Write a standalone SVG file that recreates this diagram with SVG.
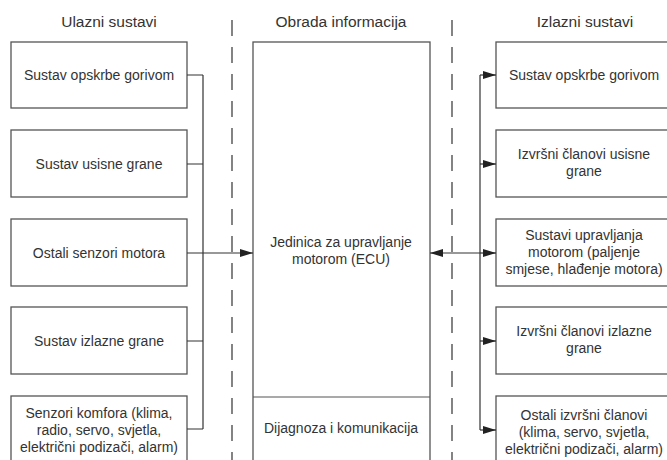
<svg xmlns="http://www.w3.org/2000/svg" width="667" height="460" viewBox="0 0 667 460">
<style>
.box{fill:#fff;stroke:#555;stroke-width:1.3}
.t{font-family:"Liberation Sans",Arial,sans-serif;font-size:14px;fill:#333;text-anchor:middle}
.h{font-family:"Liberation Sans",Arial,sans-serif;font-size:15.5px;fill:#333;text-anchor:middle}
.ln{fill:none;stroke:#333;stroke-width:1.2}
.dash{fill:none;stroke:#333;stroke-width:1.2;stroke-dasharray:16 11}
</style>
<defs>
<marker id="ah" viewBox="0 0 13 8" refX="13" refY="4" markerWidth="13" markerHeight="8" markerUnits="userSpaceOnUse" orient="auto-start-reverse">
<path d="M0,0 L13,4 L0,8 Z" fill="#222"/>
</marker>
</defs>
<rect width="667" height="460" fill="#fff"/>
<g id="headings">
<text class="h" x="109" y="27">Ulazni sustavi</text>
<text class="h" x="341" y="27">Obrada informacija</text>
<text class="h" x="585" y="27">Izlazni sustavi</text>
</g>
<g id="separators">
<line class="dash" x1="232" y1="20" x2="232" y2="460"/>
<line class="dash" x1="452" y1="20" x2="452" y2="460"/>
</g>
<g id="in1"><rect class="box" x="11" y="42" width="176" height="66"/><text class="t" x="99" y="80">Sustav opskrbe gorivom</text></g>
<g id="in2"><rect class="box" x="11" y="130" width="176" height="67"/><text class="t" x="99" y="169">Sustav usisne grane</text></g>
<g id="in3"><rect class="box" x="11" y="219" width="176" height="67"/><text class="t" x="99" y="258">Ostali senzori motora</text></g>
<g id="in4"><rect class="box" x="11" y="307" width="176" height="67"/><text class="t" x="99" y="346">Sustav izlazne grane</text></g>
<g id="in5"><rect class="box" x="11" y="396" width="176" height="80"/><text class="t" x="99" y="418">Senzori komfora (klima,</text><text class="t" x="99" y="435">radio, servo, svjetla,</text><text class="t" x="99" y="452">električni podizači, alarm)</text></g>
<g id="ecu"><rect class="box" x="253" y="42" width="177" height="430"/><line class="ln" x1="253" y1="397" x2="430" y2="397" style="stroke:#555"/><text class="t" x="341" y="247">Jedinica za upravljanje</text><text class="t" x="341" y="264">motorom (ECU)</text><text class="t" x="341" y="433">Dijagnoza i komunikacija</text></g>
<g id="out1"><rect class="box" x="496" y="42" width="180" height="66"/><text class="t" x="584" y="80">Sustav opskrbe gorivom</text></g>
<g id="out2"><rect class="box" x="496" y="130" width="180" height="67"/><text class="t" x="584" y="159">Izvršni članovi usisne</text><text class="t" x="584" y="176">grane</text></g>
<g id="out3"><rect class="box" x="496" y="219" width="180" height="67"/><text class="t" x="584" y="240">Sustavi upravljanja</text><text class="t" x="584" y="257">motorom (paljenje</text><text class="t" x="584" y="274">smjese, hlađenje motora)</text></g>
<g id="out4"><rect class="box" x="496" y="307" width="180" height="67"/><text class="t" x="584" y="336">Izvršni članovi izlazne</text><text class="t" x="584" y="353">grane</text></g>
<g id="out5"><rect class="box" x="496" y="396" width="180" height="80"/><text class="t" x="584" y="420">Ostali izvršni članovi</text><text class="t" x="584" y="437">(klima, servo, svjetla,</text><text class="t" x="584" y="454">električni podizači, alarm)</text></g>
<g id="connectors">
<path class="ln" d="M187,75 H203 M187,164 H203 M187,253 H203 M187,341 H203 M187,429 H203 M203,75 V429"/>
<line class="ln" x1="203" y1="253" x2="253" y2="253" marker-end="url(#ah)"/>
<line class="ln" x1="430" y1="253" x2="480" y2="253" marker-start="url(#ah)"/>
<path class="ln" d="M480,75 V430"/>
<line class="ln" x1="480" y1="75" x2="496" y2="75" marker-end="url(#ah)"/>
<line class="ln" x1="480" y1="164" x2="496" y2="164" marker-end="url(#ah)"/>
<line class="ln" x1="480" y1="253" x2="496" y2="253" marker-end="url(#ah)"/>
<line class="ln" x1="480" y1="341" x2="496" y2="341" marker-end="url(#ah)"/>
<line class="ln" x1="480" y1="430" x2="496" y2="430" marker-end="url(#ah)"/>
</g>
</svg>
